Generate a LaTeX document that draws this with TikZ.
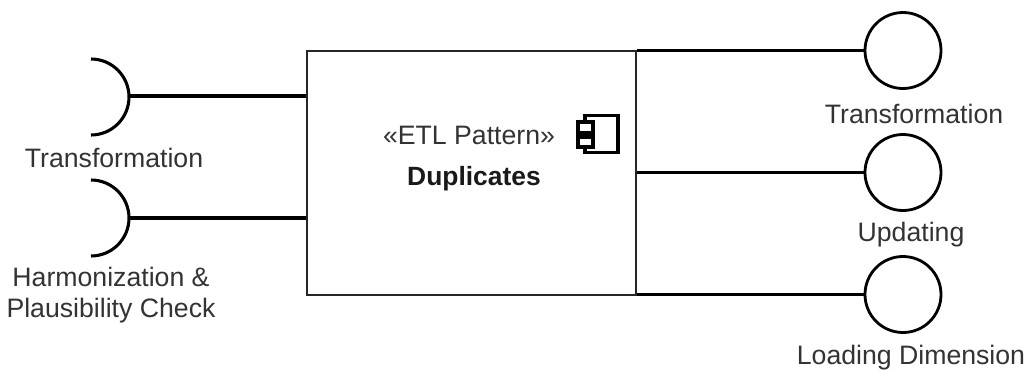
\documentclass[tikz,border=0pt]{standalone}
\usepackage{fontspec}
\setmainfont{Liberation Sans}
\tikzset{
  px/.style={x=0.75pt,y=-0.75pt},
  lbl/.style={inner sep=0pt,align=center,text=black!80,font=\fontsize{20}{23.4}\selectfont},
  nametext/.style={inner sep=0pt,font=\fontsize{19.8}{23.2}\selectfont\bfseries,text=black!90},
  compbox/.style={draw=black!85,line width=1.5pt,inner sep=0pt,minimum width=246.4pt,minimum height=183pt},
  ball/.style={circle,draw=black,line width=2.1pt,inner sep=0pt,minimum size=57pt,fill=white},
  wire/.style={draw=black,line width=2.3pt},
  socket/.style={draw=black,line width=2.3pt},
  glyphline/.style={draw=black,line width=2.4pt}
}
\begin{document}
\begin{tikzpicture}[px]
\useasboundingbox (0,0) rectangle (1026,372);
\node[compbox,anchor=north west] (box) at (306,50) {};
\node[ball] (b1) at (903,50.5) {};
\node[ball] (b2) at (903,172.5) {};
\node[ball] (b3) at (903,294.5) {};
\coordinate (s1) at (129,96);
\coordinate (s2) at (129,218);
\draw[socket] (91,59) arc[start angle=90,end angle=-90,radius=28.5pt];
\draw[socket] (91,180) arc[start angle=90,end angle=-90,radius=28.5pt];
\draw[wire] (s1) -- (box.west |- s1);
\draw[wire] (s2) -- (box.west |- s2);
\draw[wire] (b1.west) -- (box.east |- b1.west);
\draw[wire] (b2.west) -- (box.east |- b2.west);
\draw[wire] (b3.west) -- (box.east |- b3.west);
\node[lbl] (t1) at (114,158) {Transformation};
\node[lbl] (t2) at (111,295) {Harmonization \&\\Plausibility Check};
\node[lbl] (t3) at (914,114) {Transformation};
\node[lbl] (t4) at (911,235) {Updating};
\node[lbl] (t5) at (911,358) {Loading Dimension};
\node[lbl] (st) at (469,135) {«ETL Pattern»};
\node[nametext] (nm) at (474,179) {Duplicates};
\draw[glyphline,fill=white] (585,115.5) rectangle (618,152.5);
\draw[glyphline,fill=white] (578,122) rectangle (593,133);
\draw[glyphline,fill=white] (578,137) rectangle (593,147);
\end{tikzpicture}
\end{document}
